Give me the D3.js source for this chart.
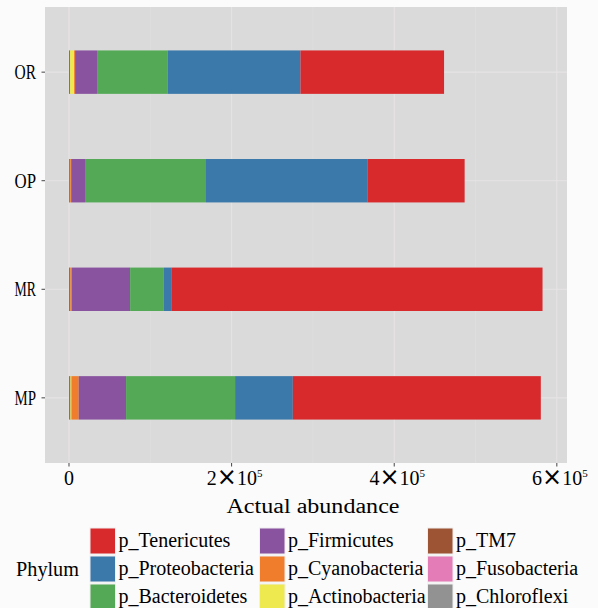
<!DOCTYPE html>
<html>
<head>
<meta charset="utf-8">
<script src="https://cdn.jsdelivr.net/npm/d3@7"></script>
<style>
  body { margin: 0; background: #fbfbfb; }
  svg { display: block; }
</style>
</head>
<body>
<div id="chart"></div>
<script>
// samples, top to bottom
const samples = ["OR", "OP", "MR", "MP"];

// legend order (column-major)
const phyla = ["p_Tenericutes", "p_Proteobacteria", "p_Bacteroidetes",
  "p_Firmicutes", "p_Cyanobacteria", "p_Actinobacteria",
  "p_TM7", "p_Fusobacteria", "p_Chloroflexi"];

const phylaColors = ["#d8292c", "#3b79aa", "#54a957",
  "#8953a0", "#f07d2b", "#eee94e",
  "#9c5434", "#e47db7", "#929292"];

// abundance per phylum, in sample order OR, OP, MR, MP
const tenericutes    = [176600, 119700, 455900, 305000];
const proteobacteria = [163600, 198400,   9800,  71000];
const bacteroidetes  = [ 86600, 148800,  41500, 134100];
const firmicutes     = [ 27000,  17000,  71600,  58200];
const cyanobacteria  = [  1200,   1200,   2000,   9000];
const actinobacteria = [  4900,    300,    200,   1200];
const tm7            = [  1200,   1000,   1200,   1600];
const fusobacteria   = [   100,    100,    100,    100];
const chloroflexi    = [   100,    100,    100,    100];

const xTicks = [0, 200000, 400000, 600000];
const xTickLabels = ["0", "2|10|5", "4|10|5", "6|10|5"];

const seriesValues = [tenericutes, proteobacteria, bacteroidetes, firmicutes,
  cyanobacteria, actinobacteria, tm7, fusobacteria, chloroflexi];

const rows = samples.map((s, i) => {
  const r = { sample: s };
  phyla.forEach((p, j) => r[p] = seriesValues[j][i]);
  return r;
});

const W = 598, H = 608;
const panel = { left: 45, right: 567, top: 7, bottom: 463 };
const FONT = "Liberation Serif, Times New Roman, serif";

const svg = d3.select("#chart").append("svg")
  .attr("width", W).attr("height", H);

svg.append("rect").attr("width", W).attr("height", H).attr("fill", "#fbfbfb");

const x = d3.scaleLinear()
  .domain([-29500, 612500])
  .range([panel.left, panel.right]);

const y = d3.scalePoint()
  .domain(samples)
  .range([panel.top, panel.bottom])
  .padding(0.6);

const barH = y.step() * 0.4;

// panel
svg.append("rect")
  .attr("x", panel.left).attr("y", panel.top)
  .attr("width", panel.right - panel.left).attr("height", panel.bottom - panel.top)
  .attr("fill", "#dadada");

const grid = svg.append("g");
grid.selectAll(".minor")
  .data([100000, 300000, 500000])
  .enter().append("line")
  .attr("x1", d => x(d)).attr("x2", d => x(d))
  .attr("y1", panel.top).attr("y2", panel.bottom)
  .attr("stroke", "#e3e1e1").attr("stroke-width", 0.6);
grid.selectAll(".major")
  .data(xTicks)
  .enter().append("line")
  .attr("x1", d => x(d)).attr("x2", d => x(d))
  .attr("y1", panel.top).attr("y2", panel.bottom)
  .attr("stroke", "#e6e3e3").attr("stroke-width", 1.1);
grid.selectAll(".hmajor")
  .data(samples)
  .enter().append("line")
  .attr("x1", panel.left).attr("x2", panel.right)
  .attr("y1", d => y(d)).attr("y2", d => y(d))
  .attr("stroke", "#e6e3e3").attr("stroke-width", 1.1);

// stack from left: last legend level first
const stackKeys = phyla.slice().reverse();
const stacked = d3.stack().keys(stackKeys)(rows);
const color = d3.scaleOrdinal().domain(phyla).range(phylaColors);

svg.append("g").selectAll("g")
  .data(stacked)
  .enter().append("g")
  .attr("fill", d => color(d.key))
  .selectAll("rect")
  .data(d => d)
  .enter().append("rect")
  .attr("x", d => x(d[0]))
  .attr("width", d => x(d[1]) - x(d[0]))
  .attr("y", d => y(d.data.sample) - barH / 2)
  .attr("height", barH);

// y axis
const yAxis = svg.append("g");
yAxis.selectAll("line")
  .data(samples)
  .enter().append("line")
  .attr("x1", panel.left - 3.5).attr("x2", panel.left)
  .attr("y1", d => y(d)).attr("y2", d => y(d))
  .attr("stroke", "#444").attr("stroke-width", 1);
yAxis.selectAll("text")
  .data(samples)
  .enter().append("text")
  .attr("x", 36).attr("y", d => y(d) + 6.8)
  .attr("text-anchor", "end")
  .attr("font-family", FONT)
  .attr("font-size", 20)
  .attr("textLength", 21.5).attr("lengthAdjust", "spacingAndGlyphs")
  .attr("fill", "#000")
  .text(d => d);

// x axis
const xAxis = svg.append("g");
xAxis.selectAll("line")
  .data(xTicks)
  .enter().append("line")
  .attr("x1", d => x(d)).attr("x2", d => x(d))
  .attr("y1", panel.bottom).attr("y2", panel.bottom + 3.5)
  .attr("stroke", "#444").attr("stroke-width", 1);
xAxis.selectAll("text")
  .data(xTicks)
  .enter().append("text")
  .attr("x", d => x(d) + (d === 0 ? 0 : 3))
  .attr("y", 485)
  .attr("text-anchor", "middle")
  .attr("font-family", FONT)
  .attr("font-size", 20)
  .attr("fill", "#000")
  .each(function (d, i) {
    const parts = xTickLabels[i].split("|");
    const t = d3.select(this);
    t.append("tspan").text(parts[0]);
    if (parts.length > 1) {
      t.append("tspan").attr("font-family", "DejaVu Sans").attr("font-size", 24)
        .attr("dy", -0.5).text("×");
      t.append("tspan").attr("dy", 0.5).text(parts[1]);
      t.append("tspan").attr("font-size", 11).attr("dy", -8).text(parts[2]);
    }
  });

svg.append("text")
  .attr("x", 313).attr("y", 513)
  .attr("text-anchor", "middle")
  .attr("font-family", FONT)
  .attr("font-size", 20)
  .attr("textLength", 173).attr("lengthAdjust", "spacingAndGlyphs")
  .attr("fill", "#000")
  .text("Actual abundance");

// legend
const legend = svg.append("g");
legend.append("text")
  .attr("x", 16).attr("y", 576)
  .attr("font-family", FONT)
  .attr("font-size", 20)
  .attr("textLength", 63).attr("lengthAdjust", "spacingAndGlyphs")
  .attr("fill", "#000")
  .text("Phylum");

const colX = [90, 259.5, 427.5];
const rowY = [528, 556, 584];
phyla.forEach((p, i) => {
  const cx = colX[Math.floor(i / 3)], ry = rowY[i % 3];
  legend.append("rect")
    .attr("x", cx).attr("y", ry)
    .attr("width", 25.5).attr("height", 26)
    .attr("fill", color(p))
    .attr("stroke", "#f0eeee").attr("stroke-width", 1);
  legend.append("text")
    .attr("x", cx + 28.5).attr("y", ry + 18.5)
    .attr("font-family", FONT)
    .attr("font-size", 20)
    .attr("fill", "#000")
    .text(p);
});
</script>
</body>
</html>
